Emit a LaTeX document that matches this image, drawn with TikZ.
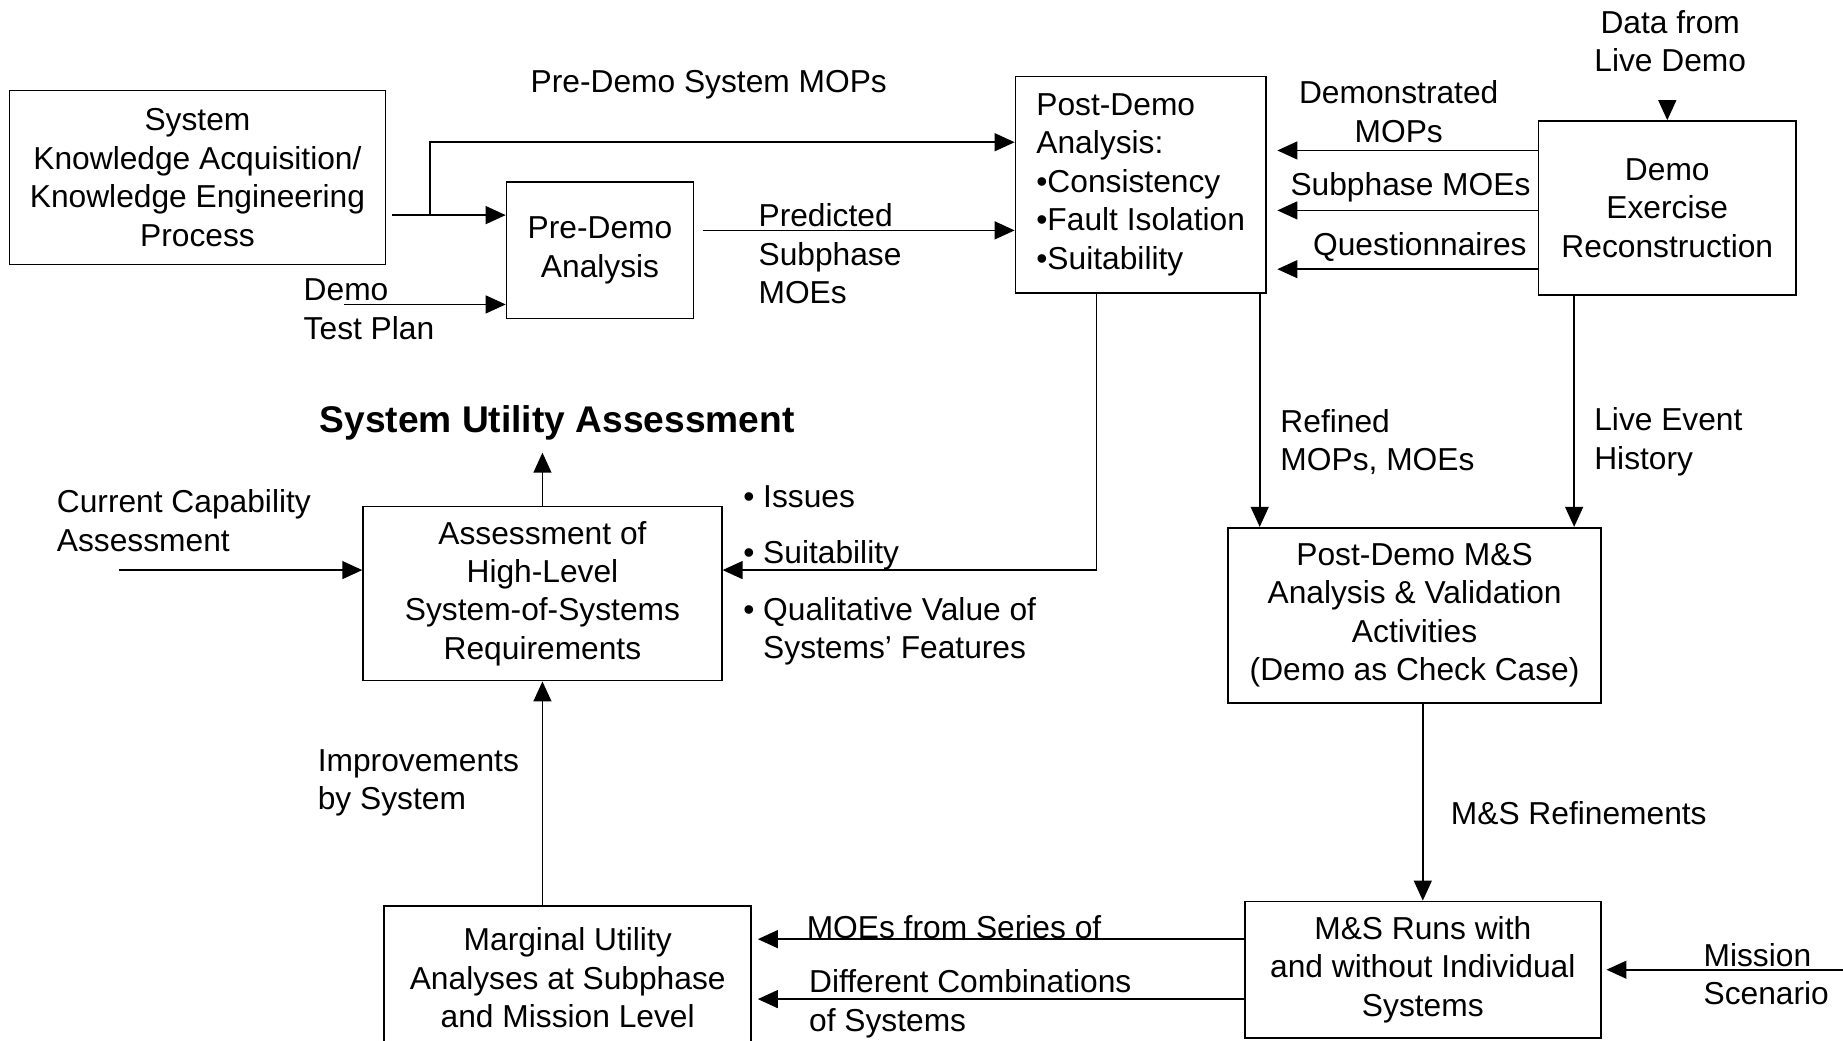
\documentclass[tikz,border=0pt]{standalone}
\usepackage{fontspec}
\setmainfont{Liberation Sans}
\usetikzlibrary{arrows.meta}
\begin{document}
\begin{tikzpicture}[x=0.5pt,y=-0.5pt,
  every node/.style={font=\fontsize{13.5pt}{16.35pt}\selectfont, inner sep=0pt},
  box/.style={draw, line width=0.75pt, align=center},
  lbl/.style={align=left, anchor=west},
  clbl/.style={align=center},
  arr/.style={line width=0.7pt, -{Triangle[length=8.5pt,width=7.6pt]}}]
\clip (0,0) rectangle (1568,885);
\fill[white] (0,0) rectangle (1568,885);

% boxes
\node[box, minimum width=160pt, minimum height=74pt] (A) at (168,151)
  {System\\Knowledge Acquisition/\\Knowledge Engineering\\Process};
\node[box, minimum width=79.5pt, minimum height=58pt] (B) at (510.5,213)
  {Pre-Demo\\Analysis};
\node[box, align=left, minimum width=106.5pt, minimum height=92pt] (C) at (970.5,157)
  {Post-Demo\\Analysis:\\•Consistency\\•Fault Isolation\\•Suitability};
\node[box, minimum width=109.5pt, minimum height=74pt] (D) at (1418.5,177)
  {Demo\\Exercise\\Reconstruction};
\node[box, minimum width=152.5pt, minimum height=74pt] (E) at (461.5,505)
  {Assessment of\\High-Level\\System-of-Systems\\Requirements};
\node[box, minimum width=158.5pt, minimum height=74.5pt] (F) at (1203.5,523.5)
  {Post-Demo M\&S\\Analysis \& Validation\\Activities\\(Demo as Check Case)};
\node[box, minimum width=156pt, minimum height=61pt] (G) at (483,832)
  {Marginal Utility\\Analyses at Subphase\\and Mission Level};
\node[box, minimum width=151.5pt, minimum height=58pt] (H) at (1210.5,825)
  {M\&S Runs with\\and without Individual\\Systems};

% labels
\node[clbl] (premops) at (603,72) {Pre-Demo System MOPs};
\node[lbl] (pred) at (645,216) {Predicted\\Subphase\\MOEs};
\node[lbl] (testplan) at (258,263) {Demo\\Test Plan};
\node[clbl] (livedemo) at (1421,35) {Data from\\Live Demo};
\node[clbl] (demmops) at (1190,95) {Demonstrated\\MOPs};
\node[clbl] (submoes) at (1200,159) {Subphase MOEs};
\node[clbl] (quest) at (1208,210) {Questionnaires};
\node[clbl, inner ysep=5pt, font=\fontsize{15.8pt}{19pt}\selectfont\bfseries] (sua) at (474,360) {System Utility Assessment};
\node[lbl] (curcap) at (48,443) {Current Capability\\Assessment};
\node[lbl] (issues) at (632,423) {• Issues};
\node[lbl] (suit) at (632,472) {• Suitability};
\node[lbl] (qual) at (632,537) {• Qualitative Value of\\\hphantom{• }Systems’ Features};
\node[lbl] (refined) at (1089,376) {Refined\\MOPs, MOEs};
\node[lbl] (liveevent) at (1356,376) {Live Event\\History};
\node[lbl] (improv) at (270,666) {Improvements\\by System};
\node[lbl] (msref) at (1234,692) {M\&S Refinements};
\node[lbl] (moeser) at (686,789) {MOEs from Series of};
\node[lbl] (diffcomb) at (688,854) {Different Combinations\\of Systems};
\node[lbl] (mission) at (1449,829) {Mission\\Scenario};

% connectors
\coordinate (a1) at ([shift={(5,32)}]A.east);
\draw[arr] (a1) -- (a1 -| B.west);
\coordinate (br) at (366,183);
\draw[arr] (br) |- ([shift={(0,-36)}]C.west);
\coordinate (tp) at (293,259);
\draw[arr] (tp) -- (tp -| B.west);
\coordinate (b1) at ([shift={(7,-17)}]B.east);
\draw[arr] (b1) -- (b1 -| C.west);

\coordinate (d1) at ([shift={(0,-49)}]D.west);
\coordinate (d2) at ([shift={(0,2)}]D.west);
\coordinate (d3) at ([shift={(0,52)}]D.west);
\draw[arr, shorten >=4.5pt] (d1) -- (d1 -| C.east);
\draw[arr, shorten >=4.5pt] (d2) -- (d2 -| C.east);
\draw[arr, shorten >=4.5pt] (d3) -- (d3 -| C.east);

\coordinate (ld) at (1418.5,85);
\draw[arr] (ld) -- (D.north);

\coordinate (c1) at ([shift={(-37.5,0)}]C.south);
\draw[arr] (c1) |- ([shift={(0,-20)}]E.east);
\coordinate (c2) at ([shift={(-6,0)}]C.south east);
\draw[arr] (c2) -- (c2 |- F.north);
\coordinate (d4) at ([shift={(31,0)}]D.south west);
\draw[arr] (d4) -- (d4 |- F.north);

\draw[arr] (F.south -| H.north) -- (H.north);

\coordinate (h1) at ([shift={(0,-26)}]H.west);
\coordinate (h2) at ([shift={(0,25)}]H.west);
\draw[arr, shorten >=2.5pt] (h1) -- (h1 -| G.east);
\draw[arr, shorten >=2.5pt] (h2) -- (h2 -| G.east);

\coordinate (ms) at (1570,825);
\draw[arr, shorten >=2pt] (ms) -- (H.east);

\draw[arr] (G.north -| E.south) -- (E.south);
\draw[arr] (E.north) -- (E.north |- sua.south);

\coordinate (cc) at (101,485);
\draw[arr] (cc) -- (cc -| E.west);
\end{tikzpicture}
\end{document}
